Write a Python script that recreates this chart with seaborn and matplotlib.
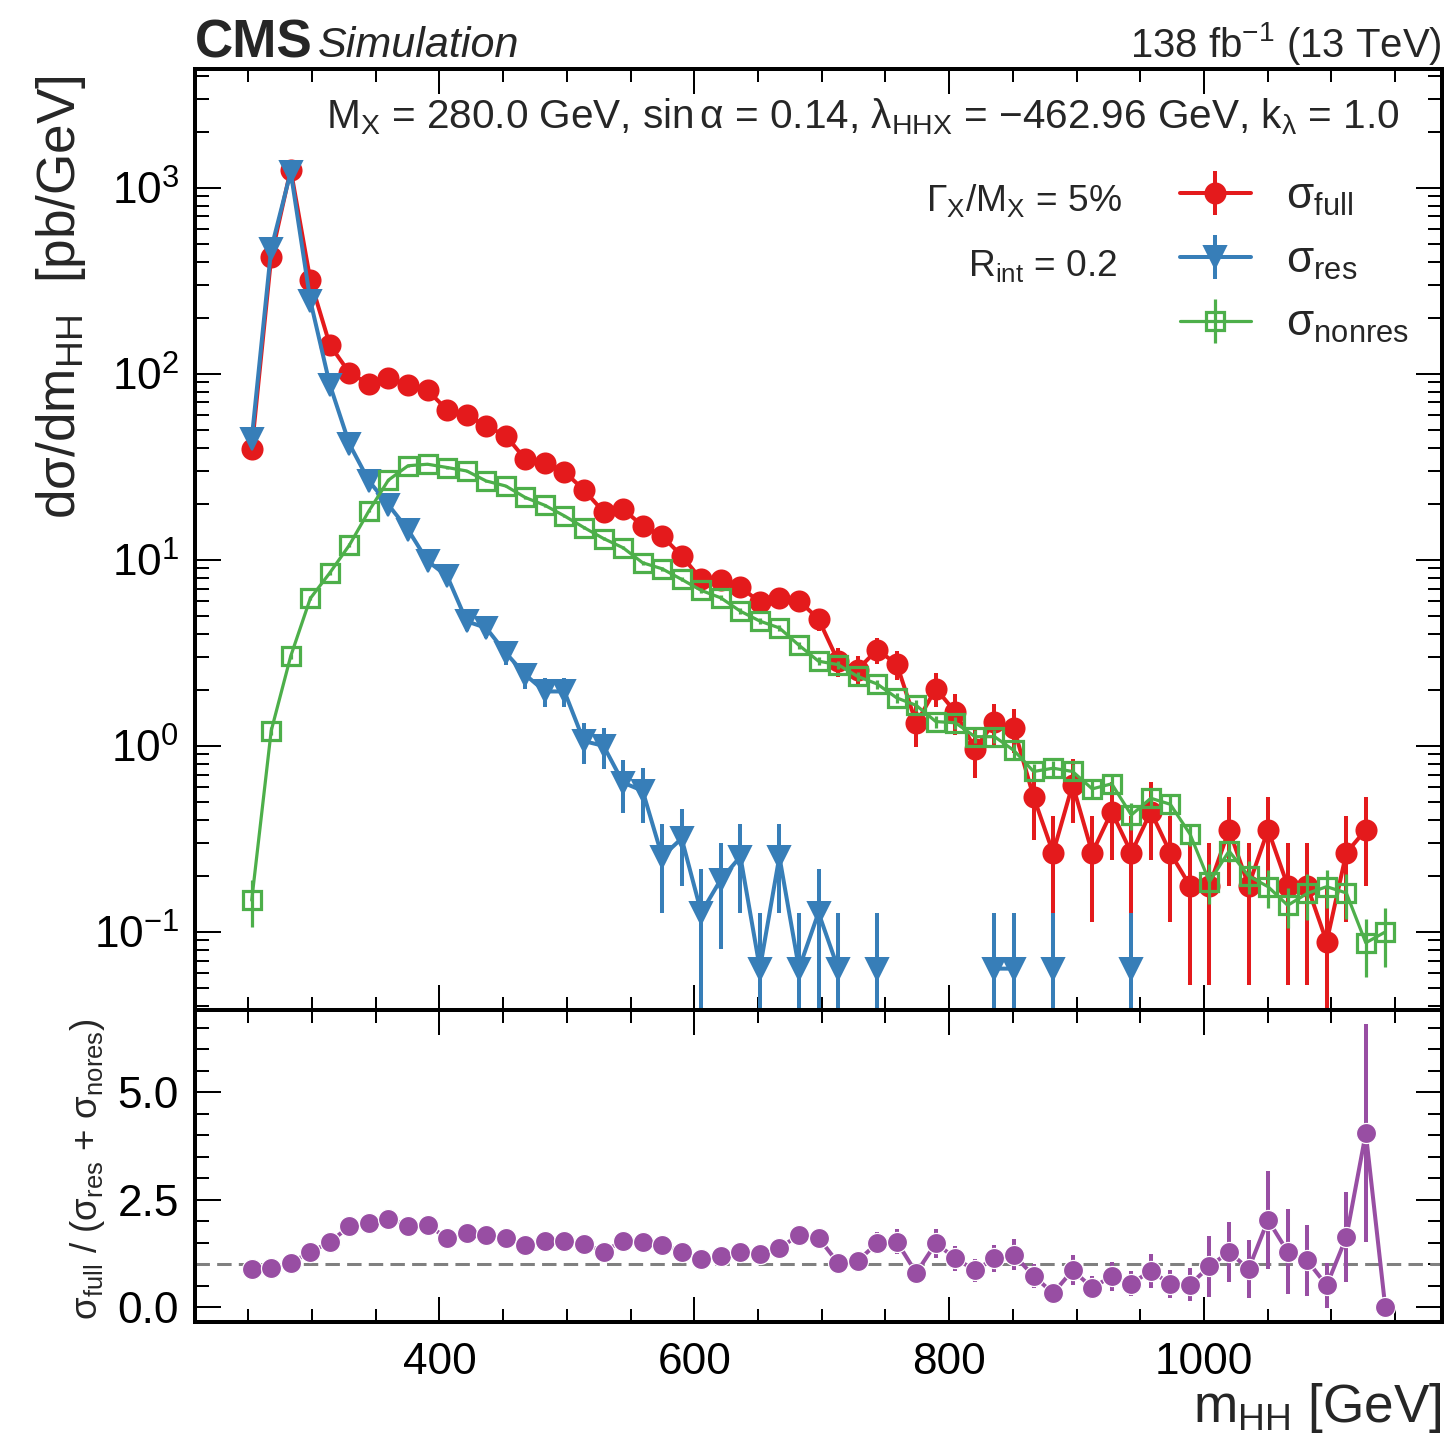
import numpy as np
import matplotlib
matplotlib.use("Agg")
import matplotlib.pyplot as plt
import seaborn as sns
from matplotlib.ticker import (MultipleLocator, LogLocator, NullFormatter,
                               FormatStrFormatter)

# Bin centres of the m_HH histogram [GeV]
m_hh = [252.7, 268.0, 283.3, 298.7, 314.0, 329.4, 344.7, 360.0, 375.4, 390.7,
        406.1, 421.4, 436.7, 452.1, 467.4, 482.8, 498.1, 513.4, 528.8, 544.1,
        559.5, 574.8, 590.1, 605.5, 620.8, 636.2, 651.5, 666.8, 682.2, 697.5,
        712.9, 728.2, 743.5, 758.9, 774.2, 789.6, 804.9, 820.3, 835.6, 850.9,
        866.3, 881.6, 896.9, 912.3, 927.6, 943.0, 958.3, 973.6, 989.0, 1004.3,
        1019.7, 1035.0, 1050.3, 1065.7, 1081.0, 1096.3, 1111.7, 1127.0, 1142.3]

nan = np.nan

# Full (resonant + non-resonant + interference) differential cross section
sigma_full = [39.3, 423, 1250, 318, 142.7, 101, 88, 95, 87, 81.3,
              63.8, 59.9, 52.3, 46.4, 34.7, 33.3, 29.7, 23.7, 18.1, 18.7,
              15.2, 13.4, 10.5, 7.84, 7.74, 7.15, 5.90, 6.19, 6.02, 4.80,
              2.85, 2.57, 3.28, 2.75, 1.32, 2.03, 1.52, 0.965, 1.34, 1.24,
              0.531, 0.266, 0.619, 0.266, 0.443, 0.266, 0.443, 0.266, 0.177, 0.177,
              0.354, 0.177, 0.354, 0.177, 0.177, 0.0885, 0.266, 0.354, nan]
sigma_full_err = [1.86, 6.1, 10.5, 5.3, 3.55, 3.0, 2.8, 2.9, 2.8, 2.7,
                  2.4, 2.3, 2.15, 2.0, 1.75, 1.72, 1.62, 1.45, 1.27, 1.29,
                  1.16, 1.09, 0.96, 0.83, 0.83, 0.80, 0.72, 0.74, 0.73, 0.65,
                  0.50, 0.48, 0.54, 0.49, 0.34, 0.42, 0.37, 0.29, 0.34, 0.33,
                  0.22, 0.153, 0.234, 0.153, 0.198, 0.153, 0.198, 0.153, 0.125, 0.125,
                  0.177, 0.125, 0.177, 0.125, 0.125, 0.0885, 0.153, 0.177, nan]

# Resonant-only contribution (empty bins left out)
sigma_res = [44.5, 469, 1213, 247, 87.3, 41.8, 26.5, 19.7, 14.5, 9.84,
             8.17, 4.67, 4.30, 3.16, 2.41, 1.96, 1.96, 1.06, 1.00, 0.635,
             0.573, 0.254, 0.318, 0.127, 0.191, 0.254, 0.0635, 0.254, 0.0635, 0.127,
             0.0635, nan, 0.0635, nan, nan, nan, nan, nan, 0.0635, 0.0635,
             nan, 0.0635, nan, nan, nan, 0.0635, nan, nan, nan, nan,
             nan, nan, nan, nan, nan, nan, nan, nan, nan]
sigma_res_err = [1.68, 5.46, 8.78, 3.96, 2.35, 1.63, 1.30, 1.12, 0.96, 0.79,
                 0.72, 0.545, 0.52, 0.45, 0.39, 0.35, 0.35, 0.26, 0.25, 0.20,
                 0.19, 0.127, 0.142, 0.09, 0.11, 0.127, 0.0635, 0.127, 0.0635, 0.09,
                 0.0635, nan, 0.0635, nan, nan, nan, nan, nan, 0.0635, 0.0635,
                 nan, 0.0635, nan, nan, nan, 0.0635, nan, nan, nan, nan,
                 nan, nan, nan, nan, nan, nan, nan, nan, nan]

# Non-resonant-only contribution
sigma_nonres = [0.148, 1.205, 3.03, 6.2, 8.5, 12.0, 18.3, 26.8, 32.0, 32.6,
                31.3, 30.0, 26.5, 24.9, 21.6, 19.6, 17.2, 14.9, 13.0, 11.6,
                9.63, 8.94, 7.84, 6.84, 6.24, 5.29, 4.68, 4.30, 3.47, 2.85,
                2.73, 2.36, 2.15, 1.81, 1.65, 1.35, 1.33, 1.12, 1.12, 0.944,
                0.728, 0.758, 0.728, 0.587, 0.625, 0.425, 0.523, 0.485, 0.336, 0.186,
                0.272, 0.200, 0.175, 0.139, 0.161, 0.175, 0.162, 0.0874, 0.100]
sigma_nonres_err = [0.042, 0.06, 0.10, 0.15, 0.20, 0.25, 0.30, 0.40, 0.45, 0.45,
                    0.45, 0.45, 0.40, 0.40, 0.35, 0.35, 0.30, 0.30, 0.30, 0.25,
                    0.25, 0.25, 0.20, 0.20, 0.20, 0.18, 0.17, 0.16, 0.15, 0.14,
                    0.14, 0.13, 0.12, 0.11, 0.11, 0.10, 0.10, 0.09, 0.09, 0.08,
                    0.07, 0.07, 0.07, 0.06, 0.06, 0.07, 0.06, 0.06, 0.045, 0.045,
                    0.035, 0.04, 0.04, 0.034, 0.045, 0.04, 0.044, 0.03, 0.035]

# sigma_full / (sigma_res + sigma_nonres)
ratio = [0.89, 0.92, 1.04, 1.28, 1.52, 1.88, 1.97, 2.06, 1.90, 1.91,
         1.61, 1.72, 1.69, 1.62, 1.45, 1.55, 1.55, 1.48, 1.29, 1.55,
         1.51, 1.46, 1.29, 1.13, 1.19, 1.29, 1.25, 1.37, 1.69, 1.62,
         1.03, 1.08, 1.49, 1.53, 0.80, 1.49, 1.14, 0.86, 1.14, 1.22,
         0.73, 0.33, 0.86, 0.46, 0.72, 0.55, 0.85, 0.54, 0.53, 0.95,
         1.29, 0.89, 2.03, 1.29, 1.09, 0.51, 1.63, 4.05, 0.0]
ratio_err = [0.05, 0.02, 0.02, 0.03, 0.04, 0.05, 0.06, 0.06, 0.06, 0.06,
             0.06, 0.06, 0.06, 0.06, 0.06, 0.06, 0.06, 0.07, 0.07, 0.08,
             0.08, 0.08, 0.09, 0.10, 0.11, 0.12, 0.13, 0.14, 0.14, 0.17,
             0.18, 0.19, 0.25, 0.30, 0.20, 0.34, 0.29, 0.27, 0.32, 0.36,
             0.27, 0.20, 0.35, 0.26, 0.33, 0.29, 0.40, 0.32, 0.38, 0.71,
             0.70, 0.67, 1.15, 0.99, 0.83, 0.52, 1.05, 2.54, 0.0]

series_labels = [r"$\sigma_{full}$", r"$\sigma_{res}$", r"$\sigma_{nonres}$"]

# ---------------------------------------------------------------- style
sns.set_theme(style="ticks")
palette = sns.color_palette("Set1")
c_full, c_res, c_nonres, c_ratio = palette[0], palette[1], palette[2], palette[3]

plt.rcParams.update({
    "font.family": ["Liberation Sans", "DejaVu Sans"],
    "mathtext.fontset": "custom",
    "mathtext.rm": "Liberation Sans",
    "mathtext.it": "Liberation Sans:italic",
    "mathtext.bf": "Liberation Sans:bold",
    "mathtext.default": "regular",
    "axes.linewidth": 2.0,
    "axes.edgecolor": "black",
    "xtick.direction": "in",
    "ytick.direction": "in",
    "xtick.top": True,
    "ytick.right": True,
    "xtick.bottom": True,
    "ytick.left": True,
    "xtick.major.size": 12.5,
    "ytick.major.size": 13.0,
    "xtick.minor.size": 6.5,
    "ytick.minor.size": 7.0,
    "xtick.major.width": 1.0,
    "ytick.major.width": 1.0,
    "xtick.minor.width": 1.0,
    "ytick.minor.width": 1.0,
    "xtick.color": "black",
    "ytick.color": "black",
    "xtick.labelsize": 22,
    "ytick.labelsize": 22,
    "xtick.major.pad": 10,
    "ytick.major.pad": 8,
})

DPI = 144.4
fig = plt.figure(figsize=(1444 / DPI, 1438 / DPI), dpi=DPI)
left, width = 195 / 1444, (1442 - 195) / 1444
ax = fig.add_axes([left, 1 - 1010 / 1438, width, (1010 - 69) / 1438])
rax = fig.add_axes([left, 1 - 1322 / 1438, width, (1322 - 1010) / 1438], sharex=ax)

# ---------------------------------------------------------------- main panel
ax.set_yscale("log")
ax.errorbar(m_hh, sigma_full, yerr=sigma_full_err, color=c_full, marker="o",
            markersize=10, lw=2.0, elinewidth=2.0, capsize=0,
            label=series_labels[0], zorder=3)
ax.errorbar(m_hh, sigma_res, yerr=sigma_res_err, color=c_res, marker="v",
            markersize=10.5, lw=2.0, elinewidth=2.0, capsize=0,
            label=series_labels[1], zorder=4)
ax.errorbar(m_hh, sigma_nonres, yerr=sigma_nonres_err, color=c_nonres, marker="s",
            markersize=9, mfc="none", mew=1.6, lw=1.6, elinewidth=1.6, capsize=0,
            label=series_labels[2], zorder=5)

ax.set_ylim(0.03806, 4335)
ax.set_xlim(208.2, 1186.8)
ax.yaxis.set_major_locator(LogLocator(base=10, numticks=20))
ax.yaxis.set_minor_locator(LogLocator(base=10, subs=np.arange(2, 10), numticks=50))
ax.yaxis.set_minor_formatter(NullFormatter())
ax.xaxis.set_major_locator(MultipleLocator(200))
ax.xaxis.set_minor_locator(MultipleLocator(50))
ax.tick_params(axis="x", which="both", labelbottom=False)
ax.tick_params(which="both", top=True, right=True)

ax.set_ylabel(r"d$\sigma$/dm$_{HH}$  [pb/GeV]", fontsize=26.5, loc="top")
ax.yaxis.set_label_coords(-0.0858, 0.994)

ax.text(0.966, 0.949,
        r"M$_X$ = 280.0 GeV, sin$\,\alpha$ = 0.14, $\lambda_{HHX}$ = $-$462.96 GeV, k$_\lambda$ = 1.0",
        transform=ax.transAxes, ha="right", va="center", fontsize=20.2)
ax.text(0.743, 0.860, r"$\Gamma_X$/M$_X$ = 5%", transform=ax.transAxes,
        ha="right", va="center", fontsize=18.5)
ax.text(0.740, 0.791, r"R$_{int}$ = 0.2", transform=ax.transAxes,
        ha="right", va="center", fontsize=18.5)

leg = ax.legend(loc="upper left", bbox_to_anchor=(0.79, 0.8856), frameon=False,
                fontsize=22, handlelength=1.6, handletextpad=0.8,
                labelspacing=0.51, borderpad=0.0, borderaxespad=0.0)

# ---------------------------------------------------------------- ratio panel
rax.axhline(1.0, color="grey", lw=1.5, dashes=(4.8, 2.4), zorder=1)
rax.errorbar(m_hh, ratio, yerr=ratio_err, fmt="none", ecolor=c_ratio,
             elinewidth=2.0, capsize=0, zorder=2)
sns.lineplot(x=m_hh, y=ratio, ax=rax, color=c_ratio, marker="o", markersize=10,
             markeredgecolor="white", markeredgewidth=0.6, lw=2.0,
             estimator=None, sort=False, zorder=3)

rax.set_ylim(-0.34, 6.91)
rax.yaxis.set_major_locator(MultipleLocator(2.5))
rax.yaxis.set_minor_locator(MultipleLocator(0.5))
rax.yaxis.set_major_formatter(FormatStrFormatter("%.1f"))
rax.xaxis.set_major_locator(MultipleLocator(200))
rax.xaxis.set_minor_locator(MultipleLocator(50))
rax.tick_params(which="both", top=True, right=True)

rax.set_ylabel(r"$\sigma_{full}$ / ($\sigma_{res}$ + $\sigma_{nores}$)", fontsize=18.3)
rax.yaxis.set_label_coords(-0.0706, 0.49)
rax.set_xlabel(r"m$_{HH}$ [GeV]", fontsize=26.5, loc="right")
rax.xaxis.set_label_coords(1.0, -0.19)

# ---------------------------------------------------------------- header
fig.text(195 / 1444, 1 - 57 / 1438, "CMS", fontsize=26.5, fontweight="bold",
         ha="left", va="baseline")
fig.text(318 / 1444, 1 - 57 / 1438, "Simulation", fontsize=21.5, style="italic",
         ha="left", va="baseline")
fig.text(1442 / 1444, 1 - 57 / 1438, r"138 fb$^{-1}$ (13 TeV)", fontsize=20,
         ha="right", va="baseline")

fig.savefig("out.png", dpi=DPI)
